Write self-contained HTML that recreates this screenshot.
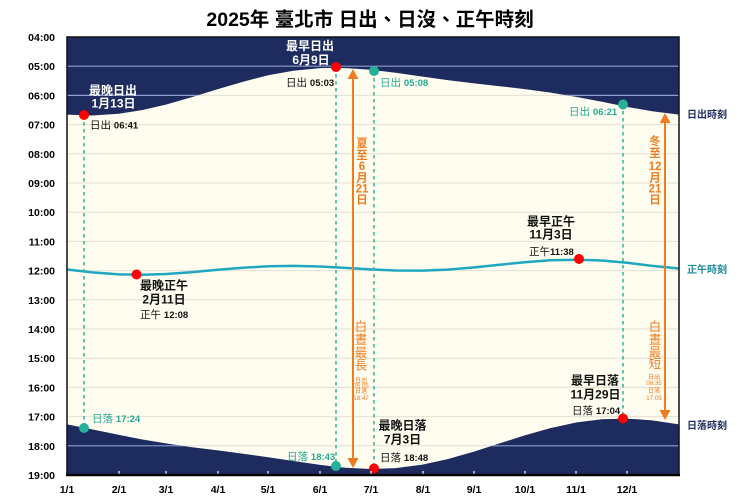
<!DOCTYPE html>
<html><head><meta charset="utf-8"><style>
html,body{margin:0;padding:0;background:#fff;}
svg{display:block;font-family:"Liberation Sans","Noto Sans CJK TC","Noto Sans CJK SC",sans-serif;}
.b{font-weight:bold;}
</style></head><body>
<svg width="750" height="500" viewBox="0 0 750 500" xmlns="http://www.w3.org/2000/svg">
<defs>
<clipPath id="navy">
<polygon points="67,37 67,114.6 92.2,115.5 119,113.7 142.5,110.0 165.9,104.6 191.1,97.4 217.9,89.1 243.1,81.7 268.2,75.3 293.4,70.7 320.2,68.1 333.6,67.9 345.3,68.1 370.5,69.8 395.6,72.8 422.5,76.6 447.6,80.1 474.4,83.4 499.6,86.2 524.7,89.1 549.9,92.5 576.7,97.0 601.9,101.8 627,106.9 652.2,111.3 679,114.6 679,37"/>
<polygon points="67,424.4 92.2,429.4 119,434.9 142.5,439.5 165.9,443.4 191.1,447.1 217.9,450.4 243.1,453.7 268.2,457.2 293.4,461.0 320.2,464.9 333.6,466.5 345.3,467.7 370.5,469.0 395.6,468.1 422.5,464.6 447.6,459.1 474.4,451.5 499.6,443.4 524.7,435.4 549.9,428.2 576.7,422.4 601.9,419.3 627,418.6 652.2,420.4 679,424.4 679,475 67,475"/>
</clipPath>
</defs>
<rect width="750" height="500" fill="#fff"/>
<text x="370" y="26" text-anchor="middle" class="b" font-size="19.5" fill="#000">2025年 臺北市 日出、日沒、正午時刻</text>

<!-- plot bg -->
<rect x="67" y="37" width="612" height="438" fill="#fefdf0"/>
<g stroke="#e2e0d2" stroke-width="1">
<line x1="67" x2="679" y1="66.2" y2="66.2"/><line x1="67" x2="679" y1="95.4" y2="95.4"/><line x1="67" x2="679" y1="124.6" y2="124.6"/><line x1="67" x2="679" y1="153.8" y2="153.8"/><line x1="67" x2="679" y1="183" y2="183"/><line x1="67" x2="679" y1="212.2" y2="212.2"/><line x1="67" x2="679" y1="241.4" y2="241.4"/><line x1="67" x2="679" y1="270.6" y2="270.6"/><line x1="67" x2="679" y1="299.8" y2="299.8"/><line x1="67" x2="679" y1="329" y2="329"/><line x1="67" x2="679" y1="358.2" y2="358.2"/><line x1="67" x2="679" y1="387.4" y2="387.4"/><line x1="67" x2="679" y1="416.6" y2="416.6"/><line x1="67" x2="679" y1="445.8" y2="445.8"/>
</g>
<rect x="67" y="37" width="612" height="438" fill="#1e2b5e" clip-path="url(#navy)"/>
<g stroke="#8e9dd2" stroke-width="1.2" clip-path="url(#navy)">
<line x1="67" x2="679" y1="66.2" y2="66.2"/><line x1="67" x2="679" y1="95.4" y2="95.4"/><line x1="67" x2="679" y1="124.6" y2="124.6"/><line x1="67" x2="679" y1="416.6" y2="416.6"/><line x1="67" x2="679" y1="445.8" y2="445.8"/>
</g>

<!-- noon curve -->
<polyline fill="none" stroke="#1ea8bf" stroke-width="2.5" points="67,269.5 92.2,272.4 119,274.4 142.5,274.8 165.9,274.0 191.1,272.3 217.9,269.8 243.1,267.7 268.2,266.3 293.4,265.9 320.2,266.5 333.6,267.2 345.3,267.9 370.5,269.4 395.6,270.5 422.5,270.6 447.6,269.6 474.4,267.4 499.6,264.8 524.7,262.2 549.9,260.3 576.7,259.7 601.9,260.5 627,262.8 652.2,265.9 679,268.5"/>

<!-- dashed verticals -->
<g stroke="#3db5a2" stroke-width="1.6" stroke-dasharray="3.5,3.5">
<line x1="84" y1="115" x2="84" y2="428"/>
<line x1="336" y1="67" x2="336" y2="466"/>
<line x1="374" y1="71" x2="374" y2="468"/>
<line x1="623" y1="104" x2="623" y2="418"/>
</g>

<!-- orange arrows -->
<g stroke="#ee7d22" stroke-width="2" fill="#ee7d22">
<line x1="353" y1="76" x2="353" y2="461"/>
<polygon points="353,69 347.5,79 358.5,79" stroke="none"/>
<polygon points="353,468 347.5,458 358.5,458" stroke="none"/>
<line x1="665" y1="120" x2="665" y2="413"/>
<polygon points="665,113 659.5,123 670.5,123" stroke="none"/>
<polygon points="665,420 659.5,410 670.5,410" stroke="none"/>
</g>
<g fill="#ee7d22" class="b" text-anchor="middle" font-size="11.5">
<text x="362" y="147">夏</text><text x="362" y="159">至</text><text x="362" y="170">6</text><text x="362" y="181.5">月</text><text x="362" y="192.5">21</text><text x="362" y="203.5">日</text>
<text x="655" y="145">冬</text><text x="655" y="157">至</text><text x="655" y="170">12</text><text x="655" y="181.5">月</text><text x="655" y="192.5">21</text><text x="655" y="203.5">日</text>
</g>
<g fill="#ee7d22" text-anchor="middle" font-size="12.5">
<text x="361" y="331">白</text><text x="361" y="344">晝</text><text x="361" y="357">最</text><text x="361" y="369.5">長</text>
<text x="655" y="331">白</text><text x="655" y="344">晝</text><text x="655" y="356.5">最</text><text x="655" y="368">短</text>
</g>
<g fill="#ee7d22" text-anchor="middle" font-size="6.2">
<text x="361" y="382.5">日出</text><text x="361" y="387.5">05:05</text><text x="361" y="393">日落</text><text x="361" y="400">18:47</text>
<text x="654" y="379">日出</text><text x="654" y="385">06:35</text><text x="654" y="392.5">日落</text><text x="654" y="400">17:09</text>
</g>

<!-- dots -->
<g fill="#f00">
<circle cx="84" cy="115" r="5"/><circle cx="336" cy="67" r="5"/><circle cx="136.5" cy="274.5" r="5"/><circle cx="579" cy="259" r="5"/><circle cx="374" cy="468.5" r="5"/><circle cx="623" cy="418.5" r="5"/>
</g>
<g fill="#26b09a">
<circle cx="374" cy="71" r="5"/><circle cx="623" cy="104.5" r="5"/><circle cx="84" cy="428" r="5"/><circle cx="336" cy="466" r="5"/>
</g>

<!-- annotations -->
<g class="b" font-size="12" text-anchor="middle" fill="#fff">
<text x="113" y="94.5">最晚日出</text><text x="113.5" y="107.5">1月13日</text>
<text x="310" y="50">最早日出</text><text x="311" y="64">6月9日</text>
</g>
<g class="b" font-size="12" text-anchor="middle" fill="#111">
<text x="551" y="225.5">最早正午</text><text x="551" y="238.5">11月3日</text>
<text x="164" y="289.5">最晚正午</text><text x="164" y="303.5">2月11日</text>
<text x="402.5" y="429.5">最晚日落</text><text x="402.5" y="443.5">7月3日</text>
<text x="595" y="384.5">最早日落</text><text x="595.5" y="398.5">11月29日</text>
</g>
<g font-size="10.5" fill="#111">
<text x="90" y="128.5">日出 <tspan class="b" font-size="9.5">06:41</tspan></text>
<text x="286" y="86">日出 <tspan class="b" font-size="9.5">05:03</tspan></text>
<text x="529" y="255">正午<tspan class="b" font-size="9.5">11:38</tspan></text>
<text x="140" y="318">正午 <tspan class="b" font-size="9.5">12:08</tspan></text>
<text x="380" y="461">日落 <tspan class="b" font-size="9.5">18:48</tspan></text>
<text x="572" y="414">日落 <tspan class="b" font-size="9.5">17:04</tspan></text>
</g>
<g font-size="10.5" fill="#26a892">
<text x="380" y="86">日出 <tspan class="b" font-size="9.5">05:08</tspan></text>
<text x="569" y="115">日出 <tspan class="b" font-size="9.5">06:21</tspan></text>
<text x="287" y="460">日落 <tspan class="b" font-size="9.5">18:43</tspan></text>
<text x="92" y="422">日落 <tspan class="b" font-size="9.5">17:24</tspan></text>
</g>

<!-- right labels -->
<g class="b" font-size="10">
<text x="687" y="118" fill="#1e2b5e">日出時刻</text>
<text x="687" y="273" fill="#1b8b96">正午時刻</text>
<text x="687" y="429" fill="#1e2b5e">日落時刻</text>
</g>

<!-- ticks -->
<g stroke="#fff" stroke-width="1.2">
<line x1="119" y1="471" x2="119" y2="474"/><line x1="166" y1="471" x2="166" y2="474"/><line x1="218" y1="471" x2="218" y2="474"/><line x1="268" y1="471" x2="268" y2="474"/><line x1="320" y1="471" x2="320" y2="474"/><line x1="371" y1="471" x2="371" y2="474"/><line x1="423" y1="471" x2="423" y2="474"/><line x1="474" y1="471" x2="474" y2="474"/><line x1="525" y1="471" x2="525" y2="474"/><line x1="576" y1="471" x2="576" y2="474"/><line x1="627" y1="471" x2="627" y2="474"/>
</g>
<!-- frame -->
<rect x="67" y="37" width="612" height="438" fill="none" stroke="#111" stroke-width="1.5"/>
<line x1="66" y1="475" x2="680" y2="475" stroke="#000" stroke-width="2.5"/>

<!-- y labels -->
<g class="b" font-size="10.5" text-anchor="end" fill="#000">
<text x="55" y="41">04:00</text><text x="55" y="70.2">05:00</text><text x="55" y="99.4">06:00</text><text x="55" y="128.6">07:00</text><text x="55" y="157.8">08:00</text><text x="55" y="187">09:00</text><text x="55" y="216.2">10:00</text><text x="55" y="245.4">11:00</text><text x="55" y="274.6">12:00</text><text x="55" y="303.8">13:00</text><text x="55" y="333">14:00</text><text x="55" y="362.2">15:00</text><text x="55" y="391.4">16:00</text><text x="55" y="420.6">17:00</text><text x="55" y="449.8">18:00</text><text x="55" y="479">19:00</text>
</g>
<!-- x labels -->
<g class="b" font-size="10.5" text-anchor="middle" fill="#000">
<text x="67" y="493">1/1</text><text x="119" y="493">2/1</text><text x="166" y="493">3/1</text><text x="218" y="493">4/1</text><text x="268" y="493">5/1</text><text x="320" y="493">6/1</text><text x="371" y="493">7/1</text><text x="423" y="493">8/1</text><text x="474" y="493">9/1</text><text x="525" y="493">10/1</text><text x="576" y="493">11/1</text><text x="627" y="493">12/1</text>
</g>
</svg>
</body></html>
